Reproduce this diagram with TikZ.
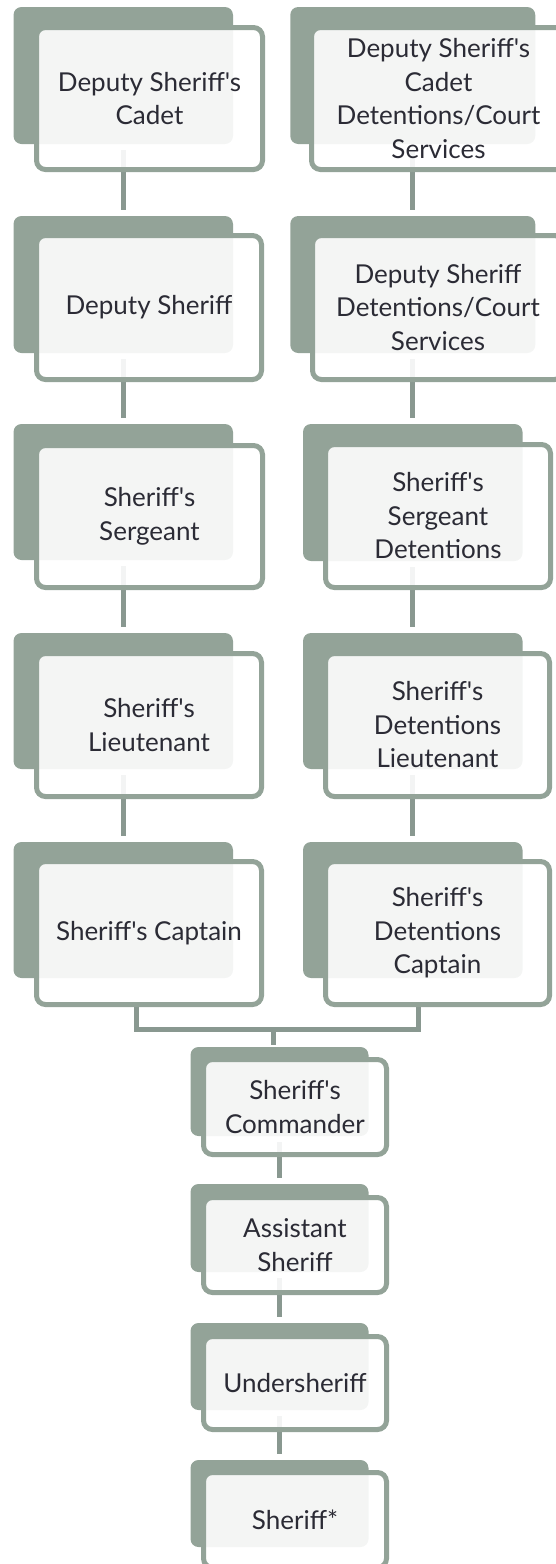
\documentclass[tikz,border=0pt]{standalone}
\usepackage{fontspec}
\setmainfont{Lato}[Ligatures=TeXOff]
\usetikzlibrary{backgrounds}

\definecolor{sage}{HTML}{93A398}
\definecolor{sagedark}{HTML}{899890}
\definecolor{ink}{HTML}{2B2B35}
\newcommand{\ranktext}{\fontsize{26}{33.5}\selectfont}

\tikzset{
  rankback/.style={fill=sage, rounded corners=8pt, inner sep=0pt},
  rankcard/.style={draw=sage, line width=5pt, fill=white, fill opacity=0.9,
    text opacity=1, rounded corners=9pt, inner sep=0pt, align=center,
    text=ink, font=\ranktext},
  link/.style={draw=sagedark, line width=5pt}
}

\begin{document}
\begin{tikzpicture}[x=1pt,y=-1pt]
  \useasboundingbox (0,0) rectangle (555,1564);

  % left column
  \node[rankback, minimum width=219.5pt, minimum height=137pt] (cadetbk) at (123.25,75.5) {};
  \node[rankcard, minimum width=226pt, minimum height=142pt] (cadet) at (149.5,98.5) {Deputy Sheriff's\\Cadet};
  \node[rankback, minimum width=219.5pt, minimum height=137pt] (deputybk) at (123.25,284.5) {};
  \node[rankcard, minimum width=225pt, minimum height=144pt] (deputy) at (149,307.5) {Deputy Sheriff};
  \node[rankback, minimum width=219.5pt, minimum height=136pt] (sgtbk) at (123.25,492) {};
  \node[rankcard, minimum width=226pt, minimum height=142pt] (sgt) at (149.5,516.5) {Sheriff's\\Sergeant};
  \node[rankback, minimum width=219.5pt, minimum height=136pt] (ltbk) at (123.25,701) {};
  \node[rankcard, minimum width=225pt, minimum height=143pt] (lt) at (149,725) {Sheriff's\\Lieutenant};
  \node[rankback, minimum width=219.5pt, minimum height=136pt] (captbk) at (123.25,910) {};
  \node[rankcard, minimum width=225pt, minimum height=143pt] (capt) at (149,933) {Sheriff's Captain};

  % right column
  \node[rankback, minimum width=245pt, minimum height=137pt] (cadetdcbk) at (412.75,75.5) {};
  \node[rankcard, minimum width=254pt, minimum height=142pt] (cadetdc) at (438.5,98.5) {Deputy Sheriff's\\Cadet\\Detentions/Court\\Services};
  \node[rankback, minimum width=245pt, minimum height=137pt] (deputydcbk) at (412.75,284.5) {};
  \node[rankcard, minimum width=251pt, minimum height=144pt] (deputydc) at (438,307.5) {Deputy Sheriff\\Detentions/Court\\Services};
  \node[rankback, minimum width=219.5pt, minimum height=137pt] (sgtdcbk) at (412.75,492.5) {};
  \node[rankcard, minimum width=225pt, minimum height=143pt] (sgtdc) at (438,516) {Sheriff's\\Sergeant\\Detentions};
  \node[rankback, minimum width=219.5pt, minimum height=136pt] (ltdcbk) at (412.75,701) {};
  \node[rankcard, minimum width=224pt, minimum height=143pt] (ltdc) at (437.5,725) {Sheriff's\\Detentions\\Lieutenant};
  \node[rankback, minimum width=219.5pt, minimum height=136pt] (captdcbk) at (412.75,910) {};
  \node[rankcard, minimum width=224pt, minimum height=143pt] (captdc) at (437.5,933) {Sheriff's\\Detentions\\Captain};

  % command chain
  \node[rankback, minimum width=178pt, minimum height=89pt] (cmdrbk) at (279.5,1091.5) {};
  \node[rankcard, minimum width=183pt, minimum height=95pt] (cmdr) at (295,1107) {Sheriff's\\Commander};
  \node[rankback, minimum width=178pt, minimum height=88pt] (asstbk) at (279.5,1228) {};
  \node[rankcard, minimum width=183pt, minimum height=95pt] (asst) at (295,1245) {Assistant\\Sheriff};
  \node[rankback, minimum width=178pt, minimum height=87pt] (underbk) at (279.5,1366.5) {};
  \node[rankcard, minimum width=183pt, minimum height=93pt] (under) at (295,1383) {Undersheriff};
  \node[rankback, minimum width=178pt, minimum height=87pt] (sheriffbk) at (279.5,1503.5) {};
  \node[rankcard, minimum width=183pt, minimum height=95pt] (sheriff) at (295,1520) {Sheriff*};

  \coordinate (join) at (273.5,1029.5);

  \begin{pgfonlayer}{background}
    \foreach \a/\b in {cadetbk/deputybk, deputybk/sgtbk, sgtbk/ltbk, ltbk/captbk,
      cadetdcbk/deputydcbk, deputydcbk/sgtdcbk, sgtdcbk/ltdcbk, ltdcbk/captdcbk,
      cmdrbk/asstbk, asstbk/underbk, underbk/sheriffbk}
      \draw[link, shorten <=6pt, shorten >=6pt] (\a.south) -- (\a.south |- \b.north);
    \draw[link] ([xshift=-12.5pt]capt.south) |- (join) -| ([xshift=-19.5pt]captdc.south);
    \draw[link, shorten >=2pt] (join) -- (join |- cmdrbk.north);
  \end{pgfonlayer}
\end{tikzpicture}
\end{document}
